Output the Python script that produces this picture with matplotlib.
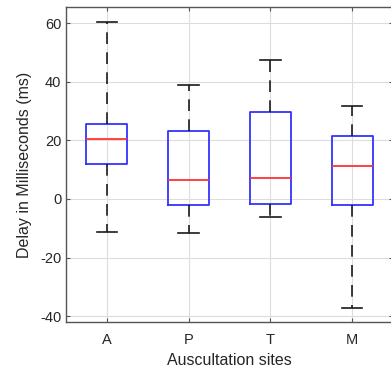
import matplotlib
matplotlib.use("Agg")
import matplotlib.pyplot as plt

plt.rcParams['font.family'] = ['Liberation Sans', 'DejaVu Sans']
plt.rcParams['axes.unicode_minus'] = False

sites = ["A", "P", "T", "M"]
whisker_low = [-11.3, -11.6, -6.1, -37.2]
q1 = [12.0, -2.0, -1.7, -2.0]
median = [20.5, 6.5, 7.2, 11.3]
q3 = [25.6, 23.2, 29.7, 21.5]
whisker_high = [60.4, 38.9, 47.4, 31.7]
yticks = [-40, -20, 0, 20, 40, 60]

stats = []
for lo, a, m, b, hi, name in zip(whisker_low, q1, median, q3, whisker_high, sites):
    stats.append(dict(whislo=lo, q1=a, med=m, q3=b, whishi=hi, label=name, fliers=[]))

fig = plt.figure(figsize=(3.91, 3.80), dpi=100)
ax = fig.add_axes([66/391, 58/380, (393-66)/391, (322-7)/380])

ax.bxp(stats, positions=[1, 2, 3, 4], widths=0.5, showfliers=False,
       boxprops=dict(color="#3333ff", linewidth=1.3),
       medianprops=dict(color="#ff3333", linewidth=1.3),
       whiskerprops=dict(color="#1a1a1a", linewidth=1.2, linestyle=(0, (7, 5))),
       capprops=dict(color="#1a1a1a", linewidth=1.2),
       capwidths=0.25)

ax.set_xlim(0.5, 4.5)
ax.set_ylim(-42, 65.5)
ax.set_yticks(yticks)
ax.set_xticks([1, 2, 3, 4])
ax.set_xticklabels(sites)
ax.grid(True, color="#dddddd", linewidth=0.8)
ax.set_axisbelow(True)
for s in ax.spines.values():
    s.set_color("#555555")
    s.set_linewidth(1.0)
ax.tick_params(direction="in", length=3, colors="#555555", labelcolor="#262626",
               labelsize=10.5, top=True, right=True)
ax.tick_params(axis="x", pad=8)
ax.set_ylabel("Delay in Milliseconds (ms)", fontsize=11.5, color="#262626", labelpad=6)
ax.set_xlabel("Auscultation sites", fontsize=11.5, color="#262626", labelpad=4)

fig.savefig("out.png", dpi=100)
